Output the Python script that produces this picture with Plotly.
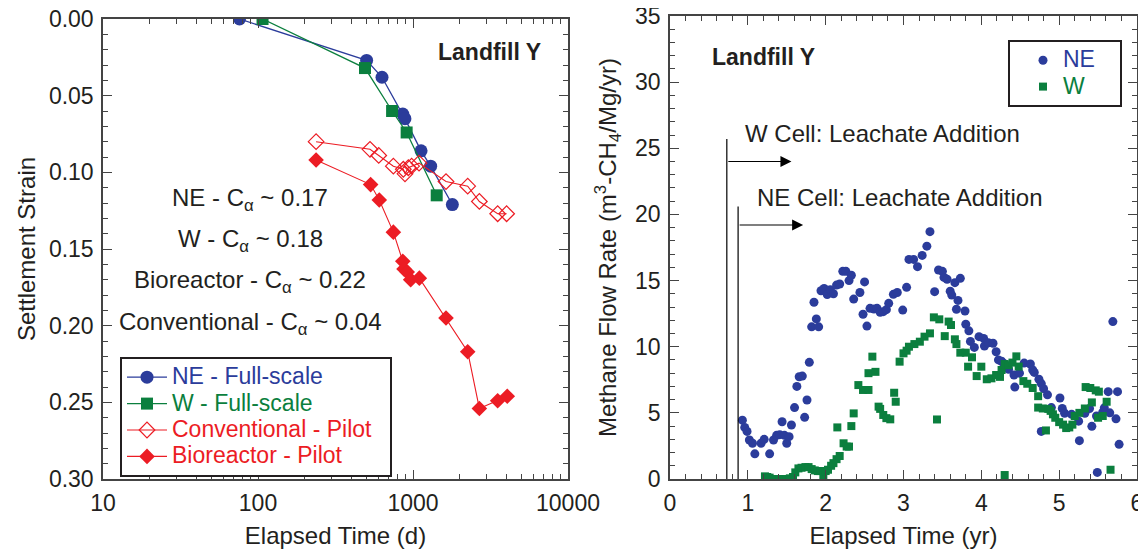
import plotly.graph_objects as go

# ---------------- Left panel data (settlement strain vs elapsed time, d) -------------
ne_full_t = [76, 502, 631, 859, 887, 1127, 1300, 1794]
ne_full_s = [0.000, 0.027, 0.038, 0.062, 0.065, 0.086, 0.096, 0.121]

w_full_t = [107, 490, 733, 910, 1422]
w_full_s = [0.000, 0.032, 0.060, 0.074, 0.115]

conv_t = [237, 528, 601, 747, 866, 888, 933, 980, 1094, 1633, 2254, 2680, 3517, 4018]
conv_s = [0.080, 0.085, 0.089, 0.096, 0.098, 0.101, 0.097, 0.096, 0.094, 0.106, 0.109, 0.119, 0.127, 0.127]

bio_t = [237, 533, 606, 747, 859, 875, 918, 966, 1099, 1633, 2254, 2680, 3517, 4057]
bio_s = [0.092, 0.108, 0.118, 0.139, 0.158, 0.163, 0.165, 0.170, 0.169, 0.195, 0.217, 0.254, 0.249, 0.246]

calpha_labels = ["NE", "W", "Bioreactor", "Conventional"]
calpha_values = ["0.17", "0.18", "0.22", "0.04"]

# ---------------- Right panel data (methane flow rate vs elapsed time, yr) -----------
ne_t = [0.93, 0.96, 0.99, 1.02, 1.06, 1.09, 1.17, 1.21, 1.28, 1.33, 1.37, 1.41, 1.44, 1.47,
        1.50, 1.53, 1.56, 1.60, 1.63, 1.66, 1.70, 1.73, 1.76, 1.79, 1.82, 1.85, 1.88, 1.91,
        1.94, 1.98, 2.02, 2.06, 2.10, 2.14, 2.18, 2.22, 2.26, 2.30, 2.33, 2.36, 2.44, 2.48,
        2.50, 2.53, 2.57, 2.62, 2.66, 2.70, 2.74, 2.78, 2.81, 2.87, 2.92, 2.99, 3.04, 3.07,
        3.13, 3.18, 3.24, 3.30, 3.34, 3.40, 3.45, 3.50, 3.52, 3.56, 3.60, 3.62, 3.66, 3.68,
        3.70, 3.73, 3.79, 3.80, 3.84, 3.86, 3.91, 3.97, 4.03, 4.04, 4.09, 4.15, 4.19, 4.22,
        4.26, 4.29, 4.35, 4.42, 4.43, 4.49, 4.55, 4.63, 4.66, 4.68, 4.74, 4.77, 4.77, 4.80,
        4.85, 4.90, 5.01, 5.04, 5.07, 5.16, 5.25, 5.26, 5.33, 5.39, 5.42, 5.48, 5.49, 5.56,
        5.58, 5.63, 5.65, 5.69, 5.73, 5.75, 5.77]
ne_q = [4.45, 3.9, 3.6, 2.95, 2.7, 1.9, 2.7, 3.0, 1.9, 2.95, 3.3, 3.35, 4.33, 3.3,
        2.7, 3.2, 4.08, 5.4, 7.0, 7.73, 7.78, 4.66, 5.97, 8.82, 11.5, 13.36, 12.1, 11.5,
        14.23, 14.4, 13.95, 14.3, 14.0, 14.66, 14.74, 15.7, 15.7, 15.0, 15.4, 13.6, 14.1, 12.45,
        14.9, 11.56, 12.9, 12.85, 12.9, 12.6, 12.65, 12.8, 13.28, 13.96, 14.1, 12.77, 14.49, 16.6,
        16.6, 16.05, 16.9, 17.6, 18.7, 14.16, 15.8, 15.7, 15.24, 15.1, 14.2, 13.9, 14.84, 12.83,
        13.5, 15.17, 12.7, 11.7, 11.2, 10.4, 9.95, 10.76, 10.63, 10.05, 10.3, 10.26, 9.62, 9.0,
        8.9, 8.74, 8.3, 7.86, 6.95, 8.0, 8.76, 8.69, 8.24, 8.06, 7.54, 7.21, 3.6, 6.83,
        6.36, 5.4, 6.12, 5.33, 4.97, 4.89, 4.37, 2.9, 4.97, 5.33, 3.98, 4.76, 0.5, 5.06,
        5.38, 6.6, 5.0, 11.9, 4.55, 6.6, 2.62]

w_t = [1.22, 1.25, 1.28, 1.32, 1.37, 1.41, 1.45, 1.50, 1.54, 1.58, 1.61, 1.65, 1.69, 1.74,
       1.78, 1.82, 1.86, 1.90, 1.93, 1.97, 2.00, 2.03, 2.07, 2.10, 2.14, 2.18, 2.15, 2.23,
       2.27, 2.30, 2.33, 2.36, 2.42, 2.48, 2.55, 2.55, 2.60, 2.64, 2.68, 2.70, 2.74, 2.78,
       2.83, 2.88, 2.90, 2.95, 3.00, 3.04, 3.07, 3.14, 3.21, 3.27, 3.34, 3.39, 3.43, 3.46,
       3.53, 3.58, 3.61, 3.66, 3.68, 3.73, 3.80, 3.83, 3.88, 3.94, 4.00, 4.07, 4.13, 4.19,
       4.24, 4.26, 4.30, 4.30, 4.35, 4.40, 4.45, 4.48, 4.54, 4.59, 4.66, 4.73, 4.73, 4.79,
       4.83, 4.86, 4.89, 4.92, 4.95, 5.00, 5.05, 5.09, 5.13, 5.17, 5.20, 5.26, 5.33, 5.34,
       5.40, 5.42, 5.47, 5.50, 5.51, 5.56, 5.61, 5.66]
w_q = [0.2, 0.15, 0.1, 0.0, 0.0, 0.0, 0.0, 0.0, 0.05, 0.15, 0.5, 0.8, 0.85, 0.9,
       0.9, 0.75, 0.65, 0.6, 0.6, 0.3, 0.6, 0.7, 1.0, 1.2, 1.5, 1.74, 3.9, 2.7,
       2.45, 2.45, 4.0, 4.96, 7.1, 6.73, 6.73, 8.0, 9.25, 8.1, 5.47, 5.3, 4.84, 4.6,
       4.51, 6.52, 5.84, 8.87, 9.5, 9.7, 10.0, 10.2, 10.38, 10.76, 11.01, 12.22, 4.5, 12.07,
       10.8, 11.9, 11.64, 10.56, 10.2, 9.55, 9.55, 8.49, 9.2, 7.78, 8.49, 7.54, 7.61, 7.86,
       7.72, 8.24, 8.69, 0.3, 8.6, 8.8, 9.27, 8.5, 7.4, 7.2, 6.88, 6.26, 5.4, 5.33,
       3.67, 5.3, 5.15, 4.89, 4.63, 4.3, 4.11, 3.85, 3.9, 4.11, 4.76, 5.0, 5.33, 6.95,
       6.88, 5.79, 6.7, 4.63, 6.6, 4.76, 5.84, 0.7]

# leachate-addition events:
# (label, start year, line top, arrow level, arrow end year, label x, label y)
events = [("W Cell: Leachate Addition", 0.73, 25.7, 24.0, 1.56, 0.94, 26.15),
          ("NE Cell: Leachate Addition", 0.875, 20.6, 19.2, 1.71, 1.09, 21.3)]

BLUE = "#2B3C9B"
GREEN = "#0B7F3E"
RED = "#EC1C24"
FONT = "Liberation Sans, Arial, sans-serif"
TXT = "#231F20"
FS = 24      # titles / annotations
TFS = 23     # tick labels
LFS = 23     # legend text
PAD1 = "\u00a0" * 2   # right padding inside left legend box
PAD2 = "\u00a0" * 3   # right padding inside right legend box

# layout geometry (screen pixels of the target; OFF compensates the page's body margin)
OFF = 8
W_PX, H_PX = 1146, 550
L0, R0, T0, B0 = 103, 1137, 16, 479          # outer plot edges on screen
ML, MT = L0 - OFF, T0 - OFF
MR, MB = W_PX - R0 + OFF, H_PX - B0 + OFF
PW = R0 - L0
PH = B0 - T0

fig = go.Figure()

def cs(txt, col, pad, size=LFS):
    return f"<span style='color:{col};font-size:{size}px'>{txt}{pad}</span>"

fig.add_trace(go.Scatter(x=ne_full_t, y=ne_full_s, mode="lines+markers", name=cs("NE - Full-scale", BLUE, PAD1),
                         line=dict(color=BLUE, width=1.3), marker=dict(symbol="circle", size=13, color=BLUE),
                         xaxis="x", yaxis="y", legend="legend"))
fig.add_trace(go.Scatter(x=w_full_t, y=w_full_s, mode="lines+markers", name=cs("W - Full-scale", GREEN, PAD1),
                         line=dict(color=GREEN, width=1.3), marker=dict(symbol="square", size=12, color=GREEN),
                         xaxis="x", yaxis="y", legend="legend"))
fig.add_trace(go.Scatter(x=conv_t, y=conv_s, mode="lines+markers", name=cs("Conventional - Pilot", RED, PAD1),
                         line=dict(color=RED, width=1.1),
                         marker=dict(symbol="diamond-open", size=12, color=RED, line=dict(width=1.2)),
                         xaxis="x", yaxis="y", legend="legend"))
fig.add_trace(go.Scatter(x=bio_t, y=bio_s, mode="lines+markers", name=cs("Bioreactor - Pilot", RED, PAD1),
                         line=dict(color=RED, width=1.1), marker=dict(symbol="diamond", size=12, color=RED),
                         xaxis="x", yaxis="y", legend="legend"))

fig.add_trace(go.Scatter(x=ne_t, y=ne_q, mode="markers", name=cs("NE", BLUE, PAD2),
                         marker=dict(symbol="circle", size=9, color=BLUE),
                         xaxis="x2", yaxis="y2", legend="legend2"))
fig.add_trace(go.Scatter(x=w_t, y=w_q, mode="markers", name=cs("W", GREEN, PAD2),
                         marker=dict(symbol="square", size=8, color=GREEN),
                         xaxis="x2", yaxis="y2", legend="legend2"))

axis_common = dict(showline=True, linecolor="#444", linewidth=1.5, mirror="allticks",
                   ticks="inside", ticklen=9, tickwidth=1.2, tickcolor="#444", showgrid=False,
                   zeroline=False, automargin=False, ticklabelstandoff=3, ticklabeloverflow="allow",
                   tickfont=dict(family=FONT, size=TFS, color=TXT))
minor_common = dict(ticks="inside", ticklen=5, tickcolor="#444", showgrid=False)
title_font = dict(family=FONT, size=FS, color=TXT)

fig.update_layout(
    width=W_PX, height=H_PX, margin=dict(l=ML, r=MR, t=MT, b=MB),
    paper_bgcolor="white", plot_bgcolor="white",
    font=dict(family=FONT, size=FS, color=TXT),
    xaxis=dict(domain=[0, (568 - L0) / PW], type="log", range=[1, 4],
               tickvals=[10, 100, 1000, 10000], ticktext=["10", "100", "1000", "10000"],
               minor=dict(dtick="D1", **minor_common),
               title=dict(text="Elapsed Time (d)", font=title_font, standoff=12),
               anchor="y", **axis_common),
    yaxis=dict(domain=[0, (B0 - 19) / PH], range=[0.30, 0.0], tickvals=[0, 0.05, 0.1, 0.15, 0.2, 0.25, 0.3],
               tickformat=".2f", minor=dict(dtick=0.01, **minor_common),
               title=dict(text="Settlement Strain", font=title_font, standoff=6),
               anchor="x", **axis_common),
    xaxis2=dict(domain=[(670 - L0) / PW, 1], range=[0, 6], dtick=1,
                minor=dict(dtick=0.2, **minor_common),
                title=dict(text="Elapsed Time (yr)", font=title_font, standoff=12),
                anchor="y2", **axis_common),
    yaxis2=dict(domain=[0, 1], range=[0, 35], dtick=5,
                minor=dict(dtick=1, **minor_common),
                title=dict(text="Methane Flow Rate (m<sup>3</sup>-CH<sub>4</sub>/Mg/yr)",
                           font=title_font, standoff=12),
                anchor="x2", **axis_common),
    legend=dict(x=(120 - L0) / PW, y=(B0 - 357) / PH, xanchor="left", yanchor="top",
                bordercolor=TXT, borderwidth=2, bgcolor="white",
                font=dict(family=FONT, size=18), itemwidth=40, tracegroupgap=0),
    legend2=dict(x=(1008 - L0) / PW, y=(B0 - 40) / PH, xanchor="left", yanchor="top",
                 bordercolor=TXT, borderwidth=2, bgcolor="white",
                 font=dict(family=FONT, size=18), itemwidth=30, indentation=13),
    showlegend=True,
)

annos = []
annos.append(dict(x=(543 - L0) / 465, y=(B0 - 52) / 460, xref="x domain", yref="y domain",
                  text="<b>Landfill Y</b>", showarrow=False, xanchor="right", yanchor="middle",
                  font=dict(size=FS - 1, color=TXT)))
annos.append(dict(x=(710 - 670) / 467, y=(B0 - 57) / PH, xref="x2 domain", yref="y2 domain",
                  text="<b>Landfill Y</b>", showarrow=False, xanchor="left", yanchor="middle",
                  font=dict(size=FS - 1, color=TXT)))
calpha_y = [199, 240, 282, 323]   # text centre rows on screen
for lab, val, yc in zip(calpha_labels, calpha_values, calpha_y):
    annos.append(dict(x=(250 - L0) / 465, y=(B0 - yc) / 460, xref="x domain", yref="y domain",
                      text=f"{lab} - C<sub>α</sub> ~ {val}", showarrow=False,
                      xanchor="center", yanchor="middle",
                      font=dict(size=FS, color=TXT)))

shapes = []
for lab, x0, ytop, yarr, xend, xt, yt in events:
    shapes.append(dict(type="line", xref="x2", yref="y2", x0=x0, x1=x0, y0=0, y1=ytop,
                       line=dict(color="black", width=1.2)))
    annos.append(dict(x=xend, y=yarr, ax=x0, ay=yarr, xref="x2", yref="y2", axref="x2", ayref="y2",
                      text="", showarrow=True, arrowhead=2, arrowsize=2, arrowwidth=1.1, arrowcolor="black"))
    annos.append(dict(x=xt, y=yt, xref="x2", yref="y2", text=lab, showarrow=False,
                      xanchor="left", yanchor="middle", font=dict(size=FS, color=TXT)))

fig.update_layout(annotations=annos, shapes=shapes)
fig.write_html("out.html")
